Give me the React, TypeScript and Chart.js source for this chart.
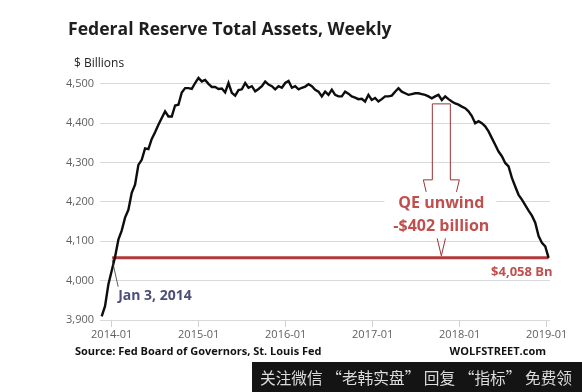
import React, { useEffect, useRef } from "react";
import { Chart, registerables } from "chart.js";

Chart.register(...registerables);

// ---- data ----
const START_DATE = "2013-11-20";
const STEP_DAYS = 14;
const assets = [
  3909, 3935, 3990, 4025, 4060, 4104, 4127, 4160, 4180, 4223,
  4244, 4294, 4307, 4336, 4334, 4360, 4377, 4396, 4413, 4430,
  4417, 4417, 4445, 4447, 4478, 4489, 4489, 4487, 4502, 4515,
  4506, 4510, 4500, 4492, 4492, 4487, 4488, 4478, 4502, 4477,
  4470, 4484, 4486, 4502, 4490, 4494, 4481, 4487, 4494, 4506,
  4498, 4494, 4486, 4494, 4490, 4502, 4507, 4490, 4494, 4486,
  4490, 4493, 4499, 4494, 4485, 4480, 4468, 4480, 4472, 4485,
  4472, 4468, 4468, 4480, 4475, 4468, 4465, 4461, 4462, 4455,
  4472, 4459, 4464, 4455, 4461, 4468, 4468, 4470, 4480, 4489,
  4480, 4476, 4472, 4474, 4476, 4476, 4474, 4472, 4468, 4463,
  4468, 4472, 4459, 4468, 4461, 4455, 4450, 4447, 4442, 4438,
  4430, 4418, 4400, 4405, 4400, 4392, 4379, 4362, 4345, 4328,
  4316, 4299, 4290, 4261, 4239, 4218, 4206, 4192, 4178, 4165,
  4147, 4113, 4096, 4087, 4058,
];
const yTicks = [3900, 4000, 4100, 4200, 4300, 4400, 4500];
const xTickYears = [2014, 2015, 2016, 2017, 2018, 2019];
const REF_DATE = "2014-01-03";
const REF_VALUE = 4058;
const REF_LABEL = "Jan 3, 2014";
const UNWIND_DATE = "2017-10-16";
const UNWIND_TOP = 4449;
const UNWIND_SHAFT_END = 4256;
const UNWIND_LINES = ["QE unwind", "-$402 billion"];
const UNWIND_TEXT_VALUES = [4195, 4138];
const END_LABEL = "$4,058 Bn";
const TITLE = "Federal Reserve Total Assets, Weekly";
const UNIT = "$ Billions";
const SOURCE = "Source: Fed Board of Governors, St. Louis Fed";
const BRAND = "WOLFSTREET.com";
const WATERMARK = "关注微信 “老韩实盘” 回复 “指标” 免费领";

function toYear(d: Date): number {
  const y = d.getUTCFullYear();
  const s = Date.UTC(y, 0, 1);
  const e = Date.UTC(y + 1, 0, 1);
  return y + (d.getTime() - s) / (e - s);
}
const startMs = Date.parse(START_DATE + "T00:00:00Z");
const points = assets.map((v, i) => ({
  x: toYear(new Date(startMs + i * STEP_DAYS * 864e5)),
  y: v,
}));

const FONT = "'Open Sans', 'DejaVu Sans', sans-serif";
const RED_LINE = "#b03a3a";
const RED_TEXT = "#c0504d";

const annotations = {
  id: "annotations",
  beforeDatasetsDraw(chart: any) {
    const { ctx, scales } = chart;
    const x = scales.x, y = scales.y;
    const x0 = x.getPixelForValue(toYear(new Date(REF_DATE + "T00:00:00Z")));
    const x1 = x.getPixelForValue(points[points.length - 1].x);
    const yr = y.getPixelForValue(REF_VALUE);
    ctx.save();
    ctx.strokeStyle = RED_LINE;
    ctx.lineWidth = 3;
    ctx.beginPath();
    ctx.moveTo(x0, yr);
    ctx.lineTo(x1, yr);
    ctx.stroke();
    ctx.restore();
  },
  afterDatasetsDraw(chart: any) {
    const { ctx, scales } = chart;
    const x = scales.x, y = scales.y;
    const x0 = x.getPixelForValue(toYear(new Date(REF_DATE + "T00:00:00Z")));
    const x1 = x.getPixelForValue(points[points.length - 1].x);
    const yr = y.getPixelForValue(REF_VALUE);
    ctx.save();
    // leader line + Jan 3 label
    ctx.strokeStyle = "#333";
    ctx.lineWidth = 0.8;
    ctx.beginPath();
    ctx.moveTo(x0, yr + 2);
    ctx.lineTo(x0 + 6, yr + 29);
    ctx.stroke();
    ctx.fillStyle = "#4b4f78";
    ctx.font = `bold 14px ${FONT}`;
    ctx.textBaseline = "middle";
    ctx.textAlign = "left";
    ctx.fillText(REF_LABEL, x0 + 6, yr + 38);

    // hollow arrow
    const ax = x.getPixelForValue(toYear(new Date(UNWIND_DATE + "T00:00:00Z")));
    const top = y.getPixelForValue(UNWIND_TOP);
    const sb = y.getPixelForValue(UNWIND_SHAFT_END);
    const tip = yr - 2;
    ctx.strokeStyle = "#9a3434";
    ctx.lineWidth = 1;
    ctx.beginPath();
    ctx.moveTo(ax + 9, top);
    ctx.lineTo(ax - 9, top);
    ctx.lineTo(ax - 9, sb);
    ctx.lineTo(ax - 18, sb);
    ctx.lineTo(ax, tip);
    ctx.lineTo(ax + 18, sb);
    ctx.lineTo(ax + 9, sb);
    ctx.closePath();
    ctx.stroke();

    // text box
    const t1 = y.getPixelForValue(UNWIND_TEXT_VALUES[0]);
    const t2 = y.getPixelForValue(UNWIND_TEXT_VALUES[1]);
    ctx.fillStyle = "#ffffff";
    ctx.fillRect(ax - 57, t1 - 12, 112, t2 - t1 + 24);
    ctx.fillStyle = RED_TEXT;
    ctx.font = `bold 16px ${FONT}`;
    ctx.textAlign = "center";
    ctx.fillText(UNWIND_LINES[0], ax, t1);
    ctx.fillText(UNWIND_LINES[1], ax, t2);

    // end label
    ctx.font = `bold 13px ${FONT}`;
    ctx.textAlign = "right";
    ctx.fillText(END_LABEL, x1 + 4, yr + 14);
    ctx.restore();
  },
  afterDraw(chart: any) {
    const { ctx, width, height } = chart;
    ctx.save();
    ctx.textBaseline = "middle";
    ctx.textAlign = "left";
    ctx.fillStyle = "#1e1e1e";
    ctx.font = `bold 17.6px ${FONT}`;
    ctx.fillText(TITLE, 68, 30);
    ctx.fillStyle = "#222";
    ctx.font = `12px ${FONT}`;
    ctx.fillText(UNIT, 74, 64);
    ctx.fillStyle = "#111";
    ctx.font = `bold 11px ${FONT}`;
    ctx.fillText(SOURCE, 75, 352);
    ctx.textAlign = "right";
    ctx.fillText(BRAND, 546, 352);
    // watermark band
    ctx.fillStyle = "#141414";
    ctx.fillRect(252, 362, width - 252, height - 362);
    ctx.fillStyle = "#dcdcdc";
    ctx.textAlign = "left";
    ctx.font = `16px 'Noto Sans CJK SC', sans-serif`;
    ctx.fillText(WATERMARK, 260, 378, 312);
    ctx.restore();
  },
};

export default function App() {
  const ref = useRef<HTMLCanvasElement | null>(null);
  useEffect(() => {
    document.body.style.margin = "0";
    const canvas = ref.current;
    if (!canvas) return;
    const chart = new Chart(canvas, {
      type: "line",
      data: {
        datasets: [
          {
            data: points,
            borderColor: "#0d0d0d",
            borderWidth: 2.4,
            pointRadius: 0,
            tension: 0,
            fill: false,
          },
        ],
      },
      options: {
        responsive: false,
        animation: false,
        events: [],
        layout: { padding: { top: 72, right: 32, bottom: 50, left: 0 } },
        plugins: { legend: { display: false }, tooltip: { enabled: false } },
        scales: {
          x: {
            type: "linear",
            min: 2013.8655,
            max: 2019.038,
            afterBuildTicks: (s: any) => {
              s.ticks = xTickYears.map((v) => ({ value: v }));
            },
            afterFit: (s: any) => {
              s.height = 22;
            },
            ticks: {
              callback: (v: any) => `${v}-01`,
              color: "#5f5f5f",
              font: { family: FONT, size: 11 },
              padding: 1,
              maxRotation: 0,
              autoSkip: false,
            },
            grid: { drawOnChartArea: false, drawTicks: true, tickLength: 7, color: "#d0d0d0" },
            border: { display: false },
          },
          y: {
            type: "linear",
            min: 3900,
            max: 4530,
            afterBuildTicks: (s: any) => {
              s.ticks = yTicks.map((v) => ({ value: v }));
            },
            afterFit: (s: any) => {
              s.width = 100;
            },
            ticks: {
              callback: (v: any) => Number(v).toLocaleString("en-US"),
              color: "#5f5f5f",
              font: { family: FONT, size: 11 },
              padding: 6,
            },
            grid: { color: "#d9d9d9", drawTicks: false },
            border: { display: false },
          },
        },
      },
      plugins: [annotations],
    });
    return () => chart.destroy();
  }, []);
  return (
    <div style={{ position: "fixed", left: 0, top: 0, width: 582, height: 392, background: "#fff" }}>
      <canvas ref={ref} width={582} height={392} style={{ display: "block", width: 582, height: 392 }} />
    </div>
  );
}
